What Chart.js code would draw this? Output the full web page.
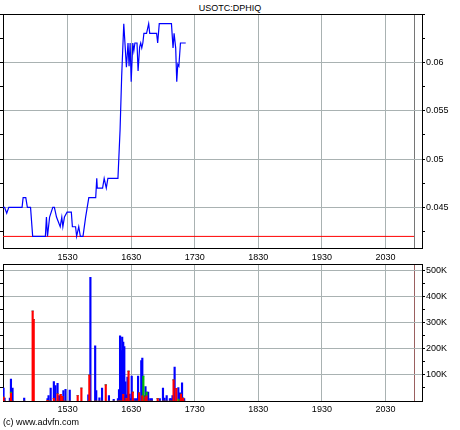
<!DOCTYPE html>
<html>
<head>
<meta charset="utf-8">
<script src="https://cdn.jsdelivr.net/npm/chart.js@4"></script>
<style>
  body { margin: 0; background: #fff; width: 460px; height: 430px; position: relative; overflow: hidden; font-family: "Liberation Sans", Arial, sans-serif; }
  canvas { position: absolute; left: 0; }
  #priceChart { top: 0; }
  #volChart { top: 258px; }
  .txt { position: absolute; font-size: 9px; color: #000; white-space: nowrap; }
  #title { top: 3px; left: 0; width: 460px; text-align: center; }
  #copy { top: 417px; left: 3px; }
</style>
</head>
<body>
<div class="txt" id="title">USOTC:DPHIQ</div>
<canvas id="priceChart" width="460" height="264"></canvas>
<canvas id="volChart" width="460" height="172"></canvas>
<div class="txt" id="copy">(c) www.advfn.com</div>
<script>
// time is minutes after midnight
const timeTicks = [930, 990, 1050, 1110, 1170, 1230, 1257];
const timeLabels = ['1530', '1630', '1730', '1830', '1930', '2030', ''];
const timeMin = 869;
const timeMax = 1264.5;

const priceTicks = [0.0425, 0.045, 0.0475, 0.05, 0.0525, 0.055, 0.0575, 0.06, 0.0625, 0.065];
const priceTickLabels = ['', '0.045', '', '0.05', '', '0.055', '', '0.06', '', ''];

const priceTimes = [869, 870.5, 872.5, 874.5, 887, 888, 890.5, 892, 895, 897, 909, 910, 911, 913, 916, 917.5,
    919.5, 923, 924.5, 925.5, 927, 929.5, 933.5, 934.5, 937.5, 938.5, 940.5, 942, 943, 944.5, 947, 948.5, 950,
    956.5, 957.5, 958, 963, 964.5, 966.5, 968, 977.5, 979.5, 981, 983, 985.5, 987, 988, 989, 990, 991.5, 992.5,
    993.5, 995.5, 996.5, 998, 999, 1000, 1001, 1002, 1004.5, 1006.5, 1007.5, 1014, 1015, 1016.5, 1028, 1029.5,
    1030.5, 1032, 1033, 1034, 1035, 1036.5, 1041.5];
const priceValues = [0.045, 0.045, 0.0444, 0.045, 0.045, 0.046, 0.046, 0.045, 0.045, 0.042, 0.042, 0.044, 0.042,
    0.044, 0.045, 0.045, 0.044, 0.043, 0.044, 0.043, 0.044, 0.0445, 0.0445, 0.043, 0.043, 0.042, 0.043, 0.042,
    0.042, 0.042, 0.044, 0.045, 0.046, 0.046, 0.048, 0.047, 0.047, 0.048, 0.047, 0.048, 0.048, 0.053, 0.0585,
    0.064, 0.0595, 0.062, 0.0596, 0.062, 0.058, 0.062, 0.0612, 0.062, 0.062, 0.0591, 0.0616, 0.062, 0.0615,
    0.062, 0.063, 0.063, 0.064, 0.063, 0.063, 0.062, 0.064, 0.064, 0.0615, 0.063, 0.0615, 0.058, 0.0598,
    0.0596, 0.062, 0.062];

const prevClose = 0.042;
const prevCloseSpan = [869, 1257];

const volTicks = [50000, 100000, 150000, 200000, 250000, 300000, 350000, 400000, 450000, 500000];
const volTickLabels = ['', '100K', '', '200K', '', '300K', '', '400K', '', '500K'];

const volTimes = [869.5, 870.5, 875.5, 876.5, 878, 889, 897, 898, 911, 912, 914, 917, 918.5, 920.5, 922, 923.5,
    925, 926, 928, 932, 939.5, 943, 949.5, 950.5, 951.5, 956, 957, 960, 962.5, 966, 969, 973.5, 977.5, 978.5,
    979.5, 980.5, 981.5, 982.5, 983.5, 984.5, 985.5, 986.5, 987.5, 988.5, 989.5, 990.5, 991.5, 992.5, 994.5,
    996.5, 997.5, 999.5, 1000.5, 1001.5, 1002.5, 1003.5, 1004.5, 1006, 1008, 1009.5, 1015, 1017, 1020, 1021.5,
    1023.5, 1026.5, 1027.5, 1029, 1030, 1031, 1032.5, 1034.5, 1036, 1037, 1038, 1039, 1040];
const volBlue = [35000, 11000, 11000, 50000, 50000, 11000, 0, 0, 6000, 21000, 50000, 65000, 59000, 40000, 21000, 0,
    0, 40000, 45000, 42000, 0, 0, 24000, 0, 475000, 212000, 40000, 12000, 50000, 0, 21000, 6000, 9000, 44000,
    250000, 194000, 246000, 200000, 209000, 74000, 14000, 92000, 0, 27000, 9000, 96000, 0, 9000, 9000,
    96000, 0, 155000, 145000, 0, 21000, 40000, 0, 34000, 9000, 9000, 0, 9000, 50000, 11000,
    21000, 9000, 9000, 21000, 0, 130000, 0, 45000, 31000, 0, 70000, 0, 9000];
const volRed = [15000, 0, 0, 30000, 0, 0, 346000, 313000, 3000, 0, 0, 10000, 0, 28000, 0, 26000,
    18000, 0, 0, 0, 21000, 50000, 0, 100000, 0, 0, 0, 0, 0, 62000, 0, 0, 0, 0,
    0, 0, 0, 26000, 0, 0, 10000, 0, 115000, 0, 0, 0, 34000, 0, 0,
    0, 31000, 0, 20000, 0, 0, 15000, 20000, 0, 0, 0, 9000, 0, 0, 0,
    0, 0, 0, 0, 81000, 0, 49000, 0, 0, 27000, 0, 11000, 0];
const volGreen = [0, 0, 0, 4000, 0, 0, 0, 0, 0, 0, 0, 0, 0, 0, 0, 0,
    0, 0, 0, 0, 0, 0, 0, 0, 0, 0, 0, 0, 0, 0, 0, 0, 0, 0,
    0, 0, 0, 0, 0, 0, 0, 0, 0, 0, 0, 0, 0, 0, 0,
    0, 0, 0, 0, 96000, 0, 0, 14000, 0, 0, 0, 0, 0, 0, 0,
    0, 0, 0, 0, 0, 0, 0, 7000, 0, 0, 0, 0, 0];

const gridGrey = '#a9b2b2';
const none = 'rgba(0,0,0,0)';

Chart.defaults.font.family = "'Liberation Sans', Arial, sans-serif";
Chart.defaults.font.size = 9;
Chart.defaults.color = '#000';

function timeAxis(height, pad, markColor) {
    return {
        type: 'linear',
        position: 'bottom',
        min: timeMin,
        max: timeMax,
        offset: false,
        afterBuildTicks: s => { s.ticks = timeTicks.map(v => ({ value: v })); },
        afterFit: s => { s.height = height; },
        ticks: { callback: (v, i) => timeLabels[i], padding: pad, maxRotation: 0, autoSkip: false },
        grid: { offset: false, drawTicks: false, color: ctx => ctx.index === timeTicks.length - 1 ? markColor : gridGrey },
        border: { color: '#000' }
    };
}

function topEdge() {
    return {
        type: 'linear',
        position: 'top',
        min: timeMin,
        max: timeMax,
        afterFit: s => { s.height = 0; },
        ticks: { display: false },
        grid: { drawOnChartArea: false, drawTicks: false },
        border: { color: '#000' }
    };
}

function valueAxis(pos, min, max, ticks, labels) {
    const right = pos === 'right';
    return {
        type: 'linear',
        position: pos,
        min: min,
        max: max,
        afterBuildTicks: s => { s.ticks = ticks.map(v => ({ value: v })); },
        afterFit: s => { s.width = right ? 38 : 3; },
        ticks: { display: right, callback: (v, i) => labels[i], padding: 1, autoSkip: false },
        grid: {
            drawOnChartArea: right,
            color: ctx => labels[ctx.index] ? gridGrey : none,
            tickColor: '#000',
            tickLength: 3
        },
        border: { color: '#000' }
    };
}

new Chart(document.getElementById('priceChart'), {
    type: 'line',
    data: {
        datasets: [{
            data: priceTimes.map((t, i) => ({ x: t, y: priceValues[i] })),
            borderColor: '#0000ff',
            borderWidth: 1.2,
            pointRadius: 0,
            xAxisID: 'x',
            yAxisID: 'y'
        }, {
            data: prevCloseSpan.map(t => ({ x: t, y: prevClose })),
            borderColor: '#ff0000',
            borderWidth: 1,
            pointRadius: 0,
            xAxisID: 'x',
            yAxisID: 'y'
        }]
    },
    options: {
        responsive: false,
        animation: false,
        layout: { padding: { top: 14, left: 0, right: 0, bottom: 0 } },
        plugins: { legend: { display: false }, tooltip: { enabled: false } },
        scales: {
            x: timeAxis(16, 4, '#767676'),
            xt: topEdge(),
            y: valueAxis('right', 0.0408, 0.065, priceTicks, priceTickLabels),
            yl: valueAxis('left', 0.0408, 0.065, priceTicks, priceTickLabels)
        }
    }
});

new Chart(document.getElementById('volChart'), {
    type: 'bar',
    data: {
        datasets: [
            { data: volTimes.map((t, i) => ({ x: t, y: volRed[i] })), backgroundColor: '#ff0000' },
            { data: volTimes.map((t, i) => ({ x: t, y: volGreen[i] })), backgroundColor: '#00c000' },
            { data: volTimes.map((t, i) => ({ x: t, y: volBlue[i] })), backgroundColor: '#0000ff' }
        ]
    },
    options: {
        responsive: false,
        animation: false,
        datasets: { bar: { barThickness: 1.5, borderWidth: 0, grouped: false } },
        layout: { padding: { top: 4, left: 0, right: 0, bottom: 0 } },
        plugins: { legend: { display: false }, tooltip: { enabled: false } },
        scales: {
            x: Object.assign(timeAxis(29, 3, '#9a6060'), { stacked: true }),
            xt: topEdge(),
            y: Object.assign(valueAxis('right', 0, 525000, volTicks, volTickLabels), { stacked: true }),
            yl: valueAxis('left', 0, 525000, volTicks, volTickLabels)
        }
    }
});
</script>
</body>
</html>
